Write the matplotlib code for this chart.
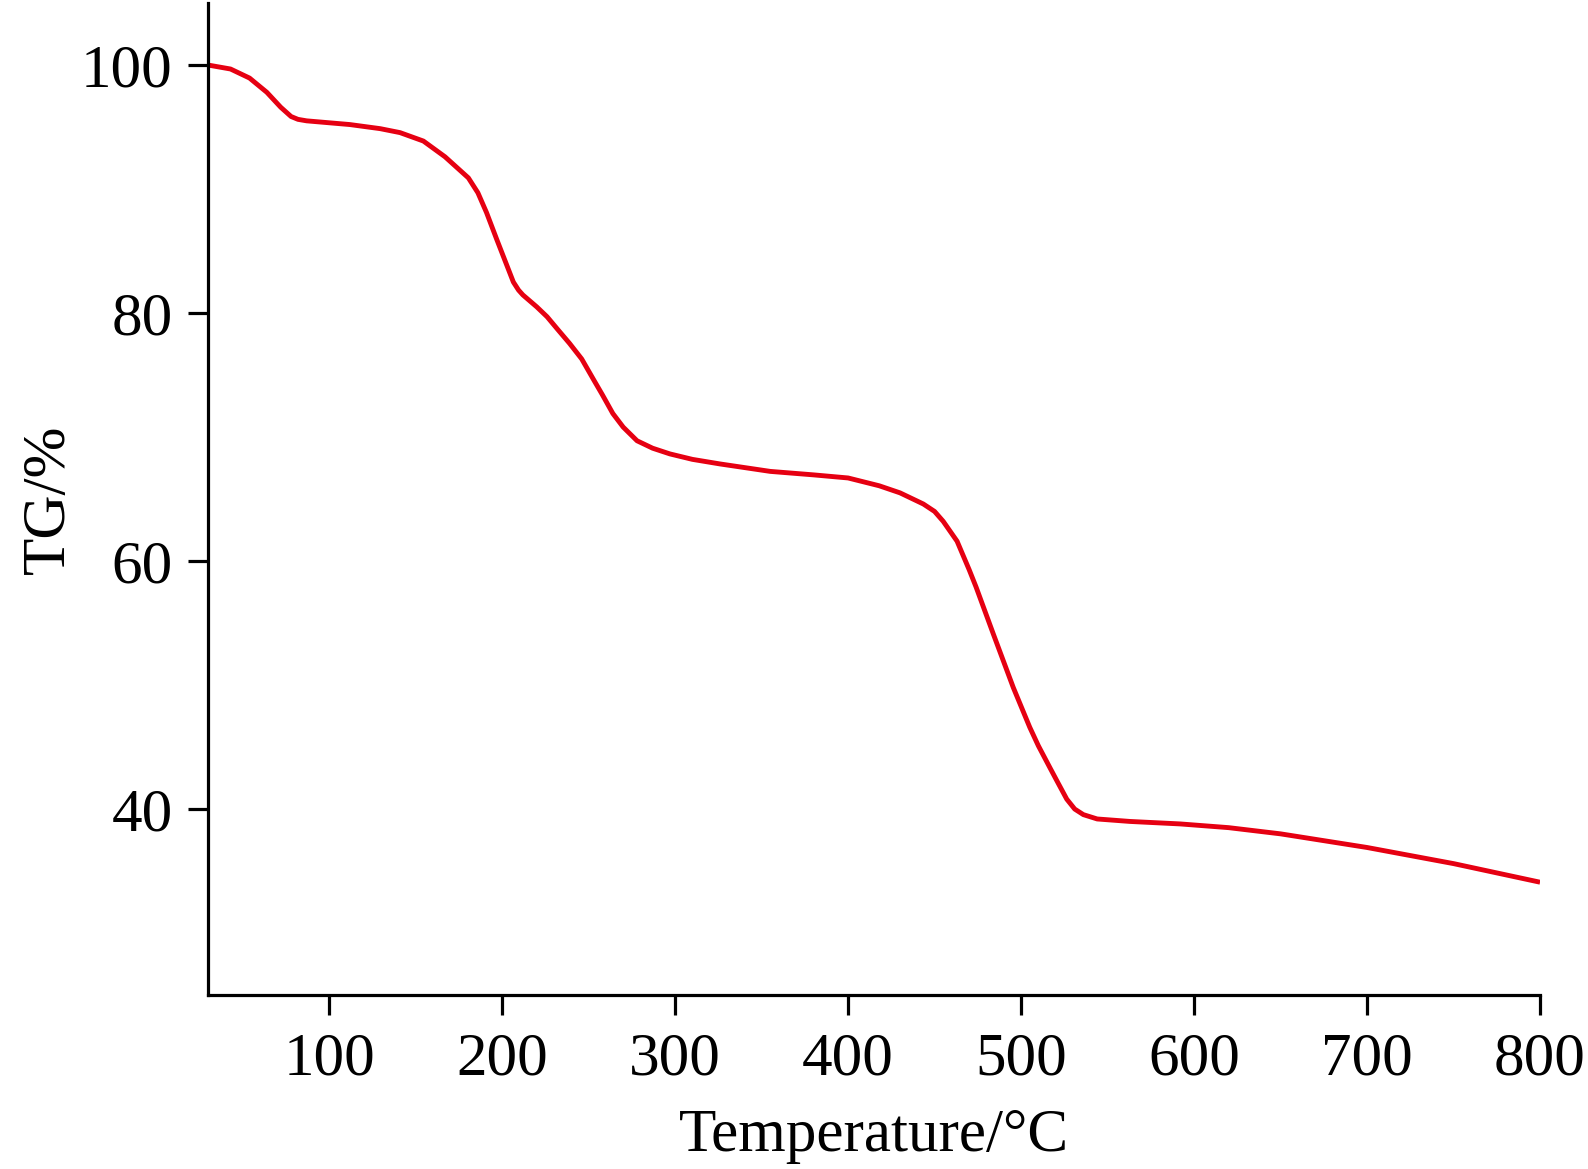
import numpy as np
import matplotlib
matplotlib.use('Agg')
import matplotlib.pyplot as plt

# TG curve
temp = [30, 43, 54, 64, 72, 78, 82, 87, 112, 129.5, 141, 154.5, 167, 180.5, 186, 191,
        197, 206.5, 209.5, 212, 220, 226, 232, 239, 246, 253, 258, 264, 270, 278, 287,
        297, 310, 326, 355, 380, 400, 418, 430, 443.5, 450, 455, 463, 470, 474, 484,
        495.5, 505, 510, 516.8, 521, 526.4, 531, 536, 544, 563, 592, 620, 650, 700,
        750, 800]
tg = [100, 99.68, 98.95, 97.8, 96.6, 95.85, 95.62, 95.5, 95.2, 94.87, 94.55, 93.87,
      92.6, 90.9, 89.7, 88.1, 85.9, 82.5, 81.85, 81.46, 80.5, 79.7, 78.7, 77.55, 76.3,
      74.6, 73.4, 71.9, 70.8, 69.7, 69.1, 68.64, 68.2, 67.83, 67.23, 66.95, 66.7,
      66.07, 65.5, 64.6, 64.0, 63.2, 61.6, 59.3, 57.9, 54.1, 49.8, 46.6, 45.1, 43.3,
      42.2, 40.8, 40.0, 39.55, 39.2, 39.0, 38.8, 38.5, 38.0, 36.9, 35.6, 34.1]

x_ticks = [100, 200, 300, 400, 500, 600, 700, 800]
y_ticks = [40, 60, 80, 100]

plt.rcParams['font.family'] = ['Liberation Serif', 'DejaVu Serif']
plt.rcParams['font.size'] = 44

fig = plt.figure(figsize=(15.88, 11.69), dpi=100)
ax = fig.add_axes([0.131, 0.1488, 0.8388, 0.8486])

ax.plot(temp, tg, color='#e60012', lw=3.5, solid_joinstyle='round', solid_capstyle='butt')

ax.set_xlim(30, 800)
ax.set_ylim(25, 105)
ax.set_xticks(x_ticks)
ax.set_yticks(y_ticks)

for s in ['top', 'right']:
    ax.spines[s].set_visible(False)
for s in ['left', 'bottom']:
    ax.spines[s].set_linewidth(2.3)

ax.tick_params(direction='out', length=14.4, width=2.3, labelsize=44)
ax.tick_params(axis='y', pad=11)
ax.tick_params(axis='x', pad=12)

ax.set_xlabel('Temperature/°C', fontsize=44, labelpad=15)
ax.set_ylabel('TG/%', fontsize=44, labelpad=3)

fig.savefig('out.png', dpi=100)
